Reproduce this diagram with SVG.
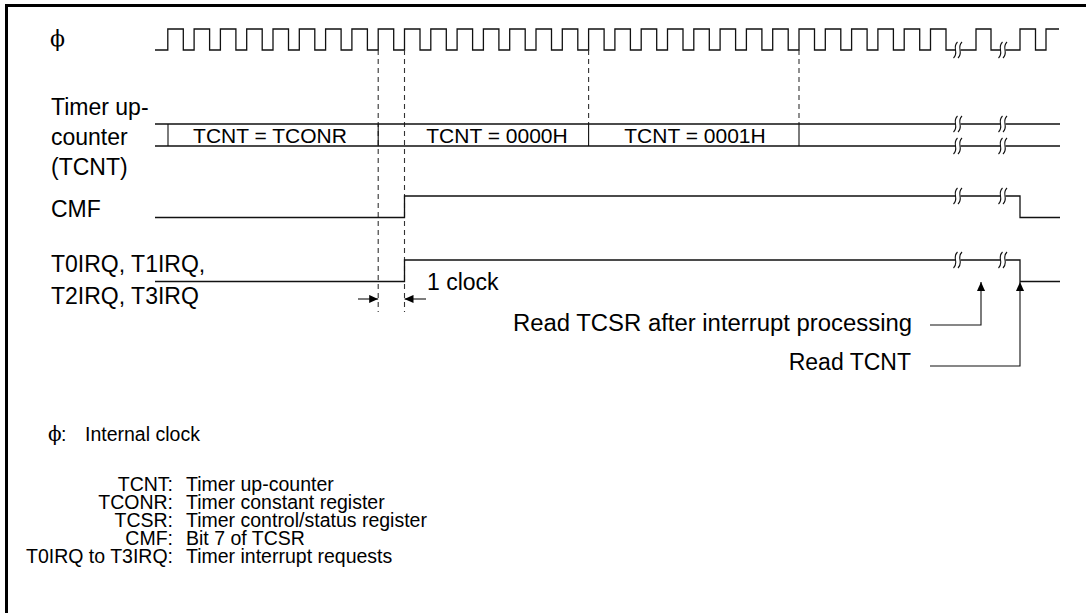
<svg xmlns="http://www.w3.org/2000/svg" width="1086" height="613" viewBox="0 0 1086 613">
<style>
  text { font-family: "Liberation Sans", Arial, sans-serif; fill: #000; }
  .lbl { font-size: 23px; }
  .bus { font-size: 21px; }
  .leg { font-size: 19.5px; }
  .phi { font-family: "DejaVu Serif", "Liberation Serif", serif; }
  .wave { fill: none; stroke: #111; stroke-width: 1.3; }
  .thin { fill: none; stroke: #111; stroke-width: 1.1; }
  .dash { fill: none; stroke: #333; stroke-width: 1.1; stroke-dasharray: 5 4; }
  .frame { fill: none; stroke: #000; stroke-width: 3; }
</style>
<defs>
  <marker id="ah" viewBox="0 0 10 10" refX="10" refY="5" markerWidth="9" markerHeight="9" markerUnits="userSpaceOnUse" orient="auto">
    <path d="M0,0.5 L10,5 L0,9.5 z" fill="#000"/>
  </marker>
  <g id="brk">
    <rect x="-2.5" y="-9" width="5" height="18" fill="#fff"/>
    <path d="M-0.5,-8 Q-3.5,-5 -2.5,0 Q-1.5,5 -4.5,8 M4,-8 Q1,-5 2,0 Q3,5 0,8" fill="none" stroke="#111" stroke-width="1.1"/>
  </g>
</defs>
<rect width="1086" height="613" fill="#fff"/>

<g id="frame">
  <path class="frame" d="M6.5,613 V5.5 H1086"/>
</g>

<g id="labels">
  <text class="phi" x="50" y="46" font-size="22">ϕ</text>
  <text class="lbl" x="51" y="115">Timer up-</text>
  <text class="lbl" x="51" y="145">counter</text>
  <text class="lbl" x="51" y="175">(TCNT)</text>
  <text class="lbl" x="51" y="217">CMF</text>
  <text class="lbl" x="51" y="272">T0IRQ, T1IRQ,</text>
  <text class="lbl" x="51" y="304">T2IRQ, T3IRQ</text>
</g>

<g id="clock">
  <path class="wave" d="M155,50 H167.8 v-21h15.5v21h10.8 v-21h15.5v21h10.8 v-21h15.5v21h10.8 v-21h15.5v21h10.8 v-21h15.5v21h10.8 v-21h15.5v21h10.8 v-21h15.5v21h10.8 v-21h15.5v21h10.8 v-21h15.5v21h10.8 v-21h15.5v21h10.8 v-21h15.5v21h10.8 v-21h15.5v21h10.8 v-21h15.5v21h10.8 v-21h15.5v21h10.8 v-21h15.5v21h10.8 v-21h15.5v21h10.8 v-21h15.5v21h10.8 v-21h15.5v21h10.8 v-21h15.5v21h10.8 v-21h15.5v21h10.8 v-21h15.5v21h10.8 v-21h15.5v21h10.8 v-21h15.5v21h10.8 v-21h15.5v21h10.8 v-21h15.5v21h10.8 v-21h15.5v21h10.8 v-21h15.5v21h10.8 v-21h15.5v21h10.8 v-21h15.5v21h10.8 v-21h15.5v21 H976 V29 H991 V50 H1020 V29 H1035.5 V50 H1046 V29 H1059"/>
  <use href="#brk" x="958" y="50"/>
  <use href="#brk" x="1003" y="50"/>
</g>

<g id="guides">
  <path class="dash" d="M378.2,50 V312"/>
  <path class="dash" d="M404.5,50 V312"/>
  <path class="dash" d="M588.6,50 V124"/>
  <path class="dash" d="M799,50 V124"/>
</g>

<g id="tcnt">
  <path class="wave" d="M155,124 H1060 M155,146 H1060"/>
  <path class="thin" d="M168,124 V146 M378.2,124 V146 M588.6,124 V146 M799,124 V146"/>
  <text class="bus" x="270" y="143" text-anchor="middle">TCNT = TCONR</text>
  <text class="bus" x="497" y="143" text-anchor="middle">TCNT = 0000H</text>
  <text class="bus" x="695" y="143" text-anchor="middle">TCNT = 0001H</text>
  <use href="#brk" x="958" y="124"/>
  <use href="#brk" x="1003" y="124"/>
  <use href="#brk" x="958" y="146"/>
  <use href="#brk" x="1003" y="146"/>
</g>

<g id="cmf">
  <path class="wave" d="M155,217.5 H404.5 V196 H1020 V217.5 H1060"/>
  <use href="#brk" x="958" y="196"/>
  <use href="#brk" x="1003" y="196"/>
</g>

<g id="irq">
  <path class="wave" d="M155,281.5 H404.5 V260 H1020 V281.5 H1060"/>
  <use href="#brk" x="958" y="260"/>
  <use href="#brk" x="1003" y="260"/>
</g>

<g id="connectors">
  <path class="thin" d="M358,299 H378.2" marker-end="url(#ah)"/>
  <path class="thin" d="M426,299 H404.5" marker-end="url(#ah)"/>
  <path class="thin" d="M930,325 H981 V282" marker-end="url(#ah)"/>
  <path class="thin" d="M930,366 H1020 V282" marker-end="url(#ah)"/>
</g>

<g id="annotations">
  <text class="lbl" x="427" y="290">1 clock</text>
  <text class="lbl" x="513" y="331" textLength="399" lengthAdjust="spacingAndGlyphs">Read TCSR after interrupt processing</text>
  <text class="lbl" x="911" y="370" text-anchor="end">Read TCNT</text>
</g>

<g id="legend">
  <text class="phi" x="48" y="441" font-size="20">ϕ</text>
  <text class="leg" x="61" y="441">:</text>
  <text class="leg" x="85" y="441">Internal clock</text>
  <text class="leg" x="173" y="491" text-anchor="end">TCNT:</text>
  <text class="leg" x="186" y="491">Timer up-counter</text>
  <text class="leg" x="173" y="509" text-anchor="end">TCONR:</text>
  <text class="leg" x="186" y="509">Timer constant register</text>
  <text class="leg" x="173" y="527" text-anchor="end">TCSR:</text>
  <text class="leg" x="186" y="527">Timer control/status register</text>
  <text class="leg" x="173" y="545" text-anchor="end">CMF:</text>
  <text class="leg" x="186" y="545">Bit 7 of TCSR</text>
  <text class="leg" x="173" y="563" text-anchor="end">T0IRQ to T3IRQ:</text>
  <text class="leg" x="186" y="563">Timer interrupt requests</text>
</g>
</svg>
